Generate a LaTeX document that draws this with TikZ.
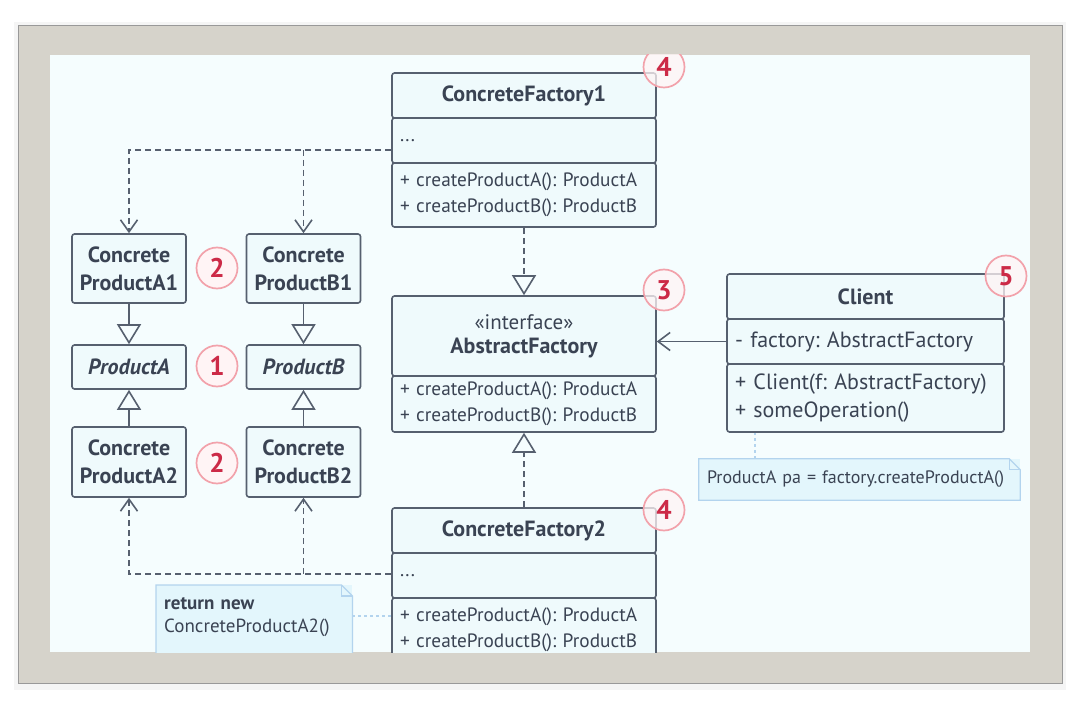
\documentclass[tikz,border=0pt]{standalone}
\usepackage{fontspec}
\setmainfont{PT Sans}
\usetikzlibrary{arrows.meta}
\definecolor{frame}{HTML}{D6D3CB}
\definecolor{paper}{HTML}{F5FDFE}
\definecolor{boxfill}{HTML}{EFFAFC}
\definecolor{ink}{HTML}{56606F}
\definecolor{txt}{HTML}{3A4353}
\definecolor{notefill}{HTML}{E3F6FC}
\definecolor{noteline}{HTML}{B3D4EE}
\definecolor{badgeline}{HTML}{F2A2AB}
\definecolor{badgefill}{HTML}{FFF4F5}
\definecolor{badgetxt}{HTML}{CC2A47}
\frenchspacing

\begin{document}
\begin{tikzpicture}[x=1pt,y=-1pt,
	head/.style={draw=ink, line width=1.6pt, rounded corners=2.5pt, fill=boxfill, text=txt, minimum width=264pt, inner sep=0pt, font=\fontsize{22}{24}\selectfont\bfseries},
	part/.style={draw=ink, line width=1.6pt, rounded corners=2.5pt, fill=boxfill, text=txt, minimum width=264pt, inner sep=0pt, text width=248pt, align=left, font=\fontsize{19.3}{26}\selectfont},
	product/.style={draw=ink, line width=1.6pt, rounded corners=2.5pt, fill=boxfill, text=txt, minimum width=114pt, inner sep=0pt, align=center, font=\fontsize{22}{28}\selectfont\bfseries},
	badge/.style={circle, draw=badgeline, fill=badgefill, line width=1.7pt, minimum size=41pt, inner sep=0pt, text=badgetxt, font=\fontsize{27}{27}\selectfont\bfseries},
	note/.style={fill=notefill, text=txt, inner sep=0pt, align=left, font=\fontsize{18}{23}\selectfont},
	extends/.style={draw=ink, line width=1.6pt, -{Triangle[open, length=20pt, width=24pt, fill=paper]}},
	implements/.style={extends, dash pattern=on 6pt off 4pt},
	depends/.style={draw=ink, line width=1.6pt, dash pattern=on 6pt off 4pt, -{Straight Barb[length=12pt, width=17pt]}},
	assoc/.style={draw=ink, line width=1.6pt, -{Straight Barb[length=12pt, width=18pt]}},
	notelink/.style={draw=noteline, line width=1.6pt, dash pattern=on 3pt off 3pt}]
	
	%frame
	\fill[white] (0,0) rectangle (1081,708);
	\fill[black!4] (14,22) rectangle (1066,690);
	\filldraw[fill=frame, draw=black!40, line width=0.8pt] (18,25) rectangle (1062,683);
	\fill[paper] (50,55) rectangle (1030,652);
	\clip (50,55) rectangle (1030,652);
	
	%factory nodes
	\node (Factory1 Head) at (524,95.5) [head, minimum height=45pt]{ConcreteFactory1};
	\node (Factory1 Fields) at (524,140.5) [part, minimum height=45pt]{...};
	\node (Factory1 Methods) at (524,195) [part, minimum height=64pt]{+ createProductA(): ProductA\\+ createProductB(): ProductB};
	
	\node (Abstract Head) at (524,336) [head, minimum height=80pt, align=center]{\fontsize{21}{29}\selectfont\mdseries «interface»\\AbstractFactory};
	\node (Abstract Methods) at (524,404) [part, minimum height=56pt]{+ createProductA(): ProductA\\+ createProductB(): ProductB};
	
	\node (Factory2 Head) at (524,530.5) [head, minimum height=45pt]{ConcreteFactory2};
	\node (Factory2 Fields) at (524,575.5) [part, minimum height=45pt]{...};
	\node (Factory2 Methods) at (524,630) [part, minimum height=64pt]{+ createProductA(): ProductA\\+ createProductB(): ProductB};
	
	%client nodes
	\node (Client Head) at (865.5,296.5) [head, minimum width=277pt, minimum height=45pt]{Client};
	\node (Client Fields) at (865.5,341.5) [part, minimum width=277pt, text width=261pt, minimum height=45pt, font=\fontsize{22}{28}\selectfont]{- factory: AbstractFactory};
	\node (Client Methods) at (865.5,398) [part, minimum width=277pt, text width=261pt, minimum height=68pt, font=\fontsize{22}{28}\selectfont]{+ Client(f: AbstractFactory)\\+ someOperation()};
	
	%product nodes
	\node (Product A1) at (129,268.5) [product, minimum height=69pt]{Concrete\\ProductA1};
	\node (Product B1) at (303.5,268.5) [product, minimum height=69pt]{Concrete\\ProductB1};
	\node (Product A) at (129,367) [product, minimum height=44pt]{\itshape ProductA};
	\node (Product B) at (303.5,367) [product, minimum height=44pt]{\itshape ProductB};
	\node (Product A2) at (129,462) [product, minimum height=70pt]{Concrete\\ProductA2};
	\node (Product B2) at (303.5,462) [product, minimum height=70pt]{Concrete\\ProductB2};
	
	%notes
	\node (Note Client) at (859.5,479.5) [note, minimum width=321pt, minimum height=41pt, text width=305pt]{ProductA pa = factory.createProductA()};
	\draw[draw=noteline, line width=1.2pt] (Note Client.south west) -- (Note Client.north west) -- ([xshift=-11pt]Note Client.north east) -- ([yshift=-11pt]Note Client.north east) -- (Note Client.south east) -- cycle;
	\draw[draw=noteline, line width=1.2pt] ([xshift=-11pt]Note Client.north east) |- ([yshift=-11pt]Note Client.north east);
	
	\node (Note Factory2) at (156,585) [note, anchor=north west, text width=180pt, inner xsep=8pt, inner ysep=12pt, text depth=40pt, font=\fontsize{19}{23}\selectfont]{\textbf{return new}\\ConcreteProductA2()};
	\draw[draw=noteline, line width=1.2pt] (Note Factory2.south west) -- (Note Factory2.north west) -- ([xshift=-11pt]Note Factory2.north east) -- ([yshift=-11pt]Note Factory2.north east) -- (Note Factory2.south east);
	\draw[draw=noteline, line width=1.2pt] ([xshift=-11pt]Note Factory2.north east) |- ([yshift=-11pt]Note Factory2.north east);
	
	%badges
	\node (Badge A1) at (217,268) [badge]{2};
	\node (Badge A) at (217,366) [badge]{1};
	\node (Badge A2) at (217,463) [badge]{2};
	\node (Badge Abstract) at (664,290) [badge, fill opacity=0.75, text opacity=1]{3};
	\node (Badge Factory1) at (664,67) [badge, fill opacity=0.75, text opacity=1]{4};
	\node (Badge Factory2) at (664,510) [badge, fill opacity=0.75, text opacity=1]{4};
	\node (Badge Client) at (1006,276) [badge, fill opacity=0.75, text opacity=1]{5};
	
	%product links
	\draw[extends] (Product A1) -- (Product A);
	\draw[extends] (Product A2) -- (Product A);
	\draw[extends] (Product B1) -- (Product B);
	\draw[extends] (Product B2) -- (Product B);
	
	%factory links
	\draw[implements] (Factory1 Methods) -- (Abstract Head);
	\draw[implements] (Factory2 Head) -- (Abstract Methods);
	\draw[assoc] (Client Fields.west) -- (Client Fields.west -| Abstract Head.east);
	
	\coordinate (Factory1 Out) at ([yshift=-9.5pt]Factory1 Fields.west);
	\draw[depends] (Factory1 Out) -| (Product A1);
	\draw[depends] (Product B1 |- Factory1 Out) -- (Product B1);
	\coordinate (Factory2 Out) at ([yshift=1.5pt]Factory2 Fields.west);
	\draw[depends] (Factory2 Out) -| (Product A2);
	\draw[depends] (Product B2 |- Factory2 Out) -- (Product B2);
	
	%note links
	\coordinate (Note Client Hook) at ([xshift=56pt]Note Client.north west);
	\draw[notelink] (Note Client Hook) -- (Note Client Hook |- Client Methods.south);
	\coordinate (Note Factory2 Hook) at ([yshift=-31pt]Note Factory2.north east);
	\draw[notelink] (Note Factory2 Hook) -- (Note Factory2 Hook -| Factory2 Methods.west);
	
\end{tikzpicture}
\end{document}
